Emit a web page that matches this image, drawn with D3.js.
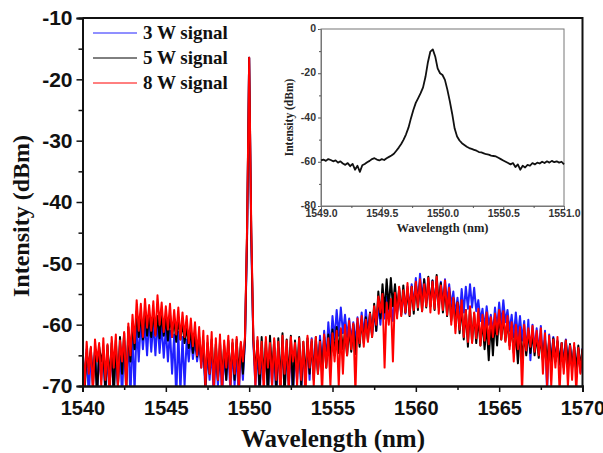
<!DOCTYPE html>
<html>
<head>
<meta charset="utf-8">
<script src="https://cdn.jsdelivr.net/npm/d3@7"></script>
<style>
  html, body { margin: 0; padding: 0; background: #fff; }
  svg { display: block; font-family: "Liberation Serif", "Times New Roman", serif; font-weight: bold; }
</style>
</head>
<body>
<div id="chart"></div>
<script>
// Wavelength grid of the main spectrum (nm), 0.125 nm step
const wavelength = d3.range(0, 241).map(i => 1540 + i * 0.125);

// Noisy OSA traces (dBm), one row per 2 nm
const red8W = [
  -63.5, -70, -62.8, -68, -63.6, -71, -62.4, -66, -63.0, -70, -62.2, -69, -63.2, -72, -62.0, -67,
  -61.6, -70, -62.6, -66, -61.2, -71, -59.8, -65, -58.4, -63, -56.0, -61, -56.6, -62, -55.8, -60.5,
  -56.8, -61, -56.2, -61.8, -55.2, -60, -56.4, -61.2, -57.0, -60.8, -56.6, -62, -57.6, -61.6, -57.2, -62.4,
  -58.0, -62, -58.6, -63, -59.0, -63.5, -59.6, -65, -60.4, -67, -61.0, -70, -61.8, -68, -61.2, -71,
  -62.2, -69, -61.6, -71, -62.6, -67, -61.8, -70, -62.4, -68, -62.0, -71, -62.8, -66, -62.0, -44,
  -16.5, -44, -62.0, -70, -62.0, -68, -62.8, -71, -62.0, -67, -63.0, -70, -62.2, -69, -62.8, -72,
  -61.8, -68, -62.6, -71, -62.0, -66, -63.0, -70, -62.2, -69, -62.8, -72, -61.8, -67, -62.4, -70,
  -62.0, -68, -62.8, -71, -61.6, -67, -62.2, -70, -61.4, -66, -61.0, -70, -60.6, -68, -60.0, -65,
  -59.4, -64, -59.8, -71, -59.0, -63, -58.6, -63.6, -59.2, -62.8, -58.2, -62, -57.0, -60, -55.4, -58,
  -55.0, -67, -56.4, -60, -55.8, -66, -54.8, -59, -53.8, -58.6, -54.4, -58, -53.2, -58.4, -53.8, -57.6,
  -53.0, -57.2, -52.6, -57.8, -53.4, -57, -52.4, -58, -53.0, -57.4, -52.2, -58.2, -53.6, -57.6, -52.8, -58.4,
  -54.0, -60, -55.6, -61.4, -56.4, -60.8, -56.0, -62, -57.6, -62.8, -57.0, -63, -58.0, -62.2, -57.4, -63.4,
  -58.4, -62.6, -58.0, -63.2, -58.8, -62, -58.2, -61.6, -57.6, -62.4, -57.8, -62.8, -58.6, -64, -59.6, -66,
  -60.0, -64, -60.4, -71, -60.0, -64.2, -60.6, -63.6, -60.2, -64.4, -61.0, -65, -60.6, -68, -61.4, -70,
  -61.8, -70, -62.4, -67, -62.0, -71, -63.0, -68, -62.6, -70, -63.4, -69, -63.0, -71, -63.8, -68,
  -64.0];

const black5W = [
  -64.0, -71, -64.6, -67, -63.8, -70, -64.4, -72, -63.6, -66, -64.2, -71, -63.4, -69, -63.0, -72,
  -62.6, -70, -62.0, -68, -61.4, -71, -60.4, -66, -59.8, -64, -57.8, -62, -58.2, -62.4, -57.6, -61.8,
  -58.4, -62, -58.0, -61.6, -58.6, -62.2, -58.2, -61.8, -58.8, -62.6, -58.4, -62, -59.0, -62.8, -58.8, -62.4,
  -59.6, -63, -60.2, -63.8, -60.8, -64.6, -61.4, -65.2, -62.0, -66, -62.6, -70, -63.0, -68, -62.4, -69,
  -63.2, -69, -62.8, -68.5, -63.4, -69, -62.6, -68.6, -63.0, -69, -62.4, -68.4, -63.0, -68, -62.4, -45,
  -16.5, -45, -62.4, -68, -62.6, -71, -62.0, -69, -62.8, -72, -61.8, -68, -62.6, -71, -62.2, -70,
  -61.4, -72, -62.4, -69, -61.8, -71, -62.6, -68, -62.0, -70, -62.8, -69, -62.2, -68, -62.8, -69,
  -62.0, -68, -62.6, -67.5, -62.0, -67, -61.6, -66, -60.8, -65, -60.4, -64.6, -60.8, -64, -61.2, -65,
  -60.6, -64.4, -60.0, -64.8, -59.8, -63.6, -59.2, -63, -58.8, -62.6, -58.0, -62, -56.6, -61, -54.6, -59,
  -53.4, -58, -52.6, -57.4, -52.4, -57, -53.4, -58, -54.0, -58.4, -53.6, -58, -54.2, -58.6, -53.8, -58.2,
  -53.2, -57.6, -53.0, -57.8, -52.6, -57.2, -52.2, -57, -52.8, -57.6, -51.9, -56.8, -53.2, -58, -53.8, -58.6,
  -54.6, -59.4, -55.8, -60.2, -56.4, -61.4, -57.0, -62.4, -57.6, -63.6, -57.2, -62.8, -58.2, -63, -58.8, -63.4,
  -59.4, -64, -60.0, -65.8, -59.6, -65, -59.0, -63.4, -58.2, -62.4, -58.6, -62.6, -59.4, -63.4, -60.4, -64.6,
  -61.4, -66.3, -61.0, -65.6, -61.6, -65, -61.0, -64.6, -61.4, -65, -61.8, -65.4, -62.0, -65.8, -62.4, -66,
  -62.6, -66.4, -62.2, -66, -62.8, -66.4, -63.0, -67, -62.6, -66.6, -63.2, -67, -63.6, -67.4, -63.4, -67,
  -64.0];

const blue3W = [
  -63.4, -70, -64.0, -72, -64.6, -68, -64.2, -71, -65.0, -69, -64.4, -72, -65.2, -70, -64.6, -71,
  -64.0, -70, -63.4, -72, -62.6, -69, -62.0, -72, -61.2, -71, -60.0, -66, -59.2, -64, -59.8, -65,
  -59.0, -64.4, -59.6, -65, -59.2, -64.6, -60.0, -65.4, -60.6, -66, -61.0, -68, -61.6, -72, -61.2, -71,
  -62.0, -70, -62.4, -66, -62.0, -65.6, -62.6, -66, -63.2, -67, -63.8, -71, -64.4, -69, -64.0, -72,
  -64.6, -70, -64.2, -72, -64.8, -69, -64.4, -71, -64.0, -70, -64.6, -72, -63.8, -69, -62.6, -46,
  -16.5, -46, -63.0, -70, -63.6, -72, -64.2, -69, -63.8, -71, -64.4, -70, -63.6, -72, -64.2, -69,
  -63.4, -71, -64.0, -70, -63.6, -72, -64.2, -69, -63.0, -71, -63.6, -70, -62.8, -69, -62.2, -68,
  -62.6, -67.5, -61.8, -67, -61.0, -66, -59.6, -64, -58.6, -62.4, -57.6, -61.8, -57.2, -61.4, -58.4, -62,
  -59.0, -62.6, -59.6, -63, -58.8, -62.4, -58.0, -61.8, -57.6, -61.2, -58.2, -61.6, -57.8, -61, -56.6, -60,
  -55.6, -59, -55.4, -58.6, -56.2, -59.4, -55.0, -58.4, -54.4, -58, -54.8, -58.2, -53.8, -57.6, -53.4, -57,
  -52.4, -56.6, -51.7, -56, -52.6, -56.4, -53.2, -57, -52.8, -56.6, -53.6, -57.2, -53.0, -56.8, -52.6, -56.4,
  -53.4, -57, -54.6, -58.4, -55.6, -59, -54.2, -58, -53.8, -57.4, -53.4, -57.2, -54.0, -57.8, -56.0, -59.4,
  -57.4, -60.6, -57.0, -60, -58.4, -61.4, -57.2, -60.6, -56.4, -60, -56.0, -59.6, -57.6, -61, -58.4, -62,
  -58.0, -62, -58.6, -62.6, -59.4, -64.6, -59.2, -65.8, -60.0, -64, -60.6, -64.6, -60.2, -66, -61.0, -71,
  -61.6, -66.4, -62.0, -66, -62.6, -66.6, -63.0, -66.2, -62.4, -66.8, -63.2, -67, -63.6, -67.4, -64.0, -67.8,
  -63.8];

const seriesNames = ["3 W signal", "5 W signal", "8 W signal"];
const seriesColors = ["#2020ff", "#000000", "#ff0000"];
const seriesValues = [blue3W, black5W, red8W];

// Inset: zoom on the signal line, 0.02 nm step
const insetWavelength = d3.range(0, 101).map(i => 1549 + i * 0.02);
const insetIntensity = [-59.4, -59.0, -59.6, -58.8, -59.2, -59.8, -59.4, -60.4, -59.8, -60.8,
  -61.4, -60.6, -62.0, -61.0, -63.6, -61.8, -64.6, -61.6, -61.0, -60.2,
  -59.6, -58.8, -58.4, -59.0, -59.4, -58.8, -59.2, -58.4, -57.8, -57.2,
  -56.4, -55.0, -53.6, -52.0, -50.0, -47.6, -44.6, -40.4, -36.6, -33.4,
  -31.2, -29.0, -26.4, -21.6, -15.0, -10.2, -9.2, -12.4, -17.8, -20.0,
  -20.8, -23.0, -27.4, -32.6, -38.4, -45.0, -48.6, -50.4, -51.6, -52.4,
  -53.2, -53.8, -54.2, -54.6, -55.0, -55.6, -55.8, -56.2, -56.6, -56.8,
  -57.2, -57.4, -57.6, -58.2, -58.8, -59.4, -60.0, -60.6, -61.2, -60.6,
  -62.4, -61.2, -63.6, -61.8, -62.6, -61.4, -61.8, -60.6, -61.2, -60.4,
  -60.8, -60.0, -60.6, -59.8, -60.4, -59.6, -60.2, -59.8, -60.4, -60.0,
  -61.2];

const xTicks = [1540, 1545, 1550, 1555, 1560, 1565, 1570];
const yTicks = [-70, -60, -50, -40, -30, -20, -10];
const insetXTicks = [1549.0, 1549.5, 1550.0, 1550.5, 1551.0];
const insetYTicks = [-80, -60, -40, -20, 0];

const width = 603, height = 453;
const svg = d3.select("#chart").append("svg")
  .attr("width", width).attr("height", height);

// plain hyphen minus like the original plot
const hyphen = fmt => d => fmt(d).replace("\u2212", "-");

// ---------- main plot ----------
const plot = { left: 82.5, right: 582.5, top: 18, bottom: 386 };
const x = d3.scaleLinear().domain([1540, 1570]).range([plot.left, plot.right]);
const y = d3.scaleLinear().domain([-70, -10]).range([plot.bottom, plot.top]);

svg.append("clipPath").attr("id", "clip")
  .append("rect")
  .attr("x", plot.left).attr("y", plot.top)
  .attr("width", plot.right - plot.left).attr("height", plot.bottom - plot.top);

const traceLine = d3.line().x(d => x(d.w)).y(d => y(d.v));
const traceG = svg.append("g").attr("clip-path", "url(#clip)");
seriesValues.forEach((vals, k) => {
  traceG.append("path")
    .datum(wavelength.map((w, i) => ({ w, v: vals[i] })))
    .attr("d", traceLine)
    .attr("fill", "none")
    .attr("stroke", seriesColors[k])
    .attr("stroke-width", 2)
    .attr("stroke-linejoin", "round");
});

// axes
const yAxis = svg.append("g")
  .attr("transform", `translate(${plot.left},0)`)
  .call(d3.axisLeft(y).tickValues(yTicks).tickSize(6).tickPadding(4).tickFormat(hyphen(d3.format("d"))));
svg.append("g")
  .attr("transform", `translate(${plot.left},0)`)
  .call(d3.axisLeft(y).tickValues(d3.range(-65, -10, 10)).tickSize(4).tickFormat(""));
const xAxis = svg.append("g")
  .attr("transform", `translate(0,${plot.bottom})`)
  .call(d3.axisBottom(x).tickValues(xTicks).tickSize(6).tickPadding(9).tickFormat(d3.format("d")));
svg.append("g")
  .attr("transform", `translate(0,${plot.bottom})`)
  .call(d3.axisBottom(x).tickValues(d3.range(1542.5, 1570, 5)).tickSize(4).tickFormat(""));

svg.selectAll(".domain").attr("stroke", "#111").attr("stroke-width", 2);
svg.selectAll(".tick line").attr("stroke", "#111").attr("stroke-width", 1.5);
yAxis.selectAll("text").style("font-size", "21px").style("font-weight", "bold").attr("fill", "#111");
xAxis.selectAll("text").style("font-size", "20px").style("font-weight", "bold").attr("fill", "#111");

// top and right frame
svg.append("path")
  .attr("d", `M${plot.left},${plot.top}H${plot.right}V${plot.bottom}`)
  .attr("fill", "none").attr("stroke", "#111").attr("stroke-width", 2);

// axis titles
svg.append("text")
  .attr("transform", `translate(29,${(plot.top + plot.bottom) / 2 + 14}) rotate(-90)`)
  .attr("text-anchor", "middle")
  .style("font-size", "24px")
  .attr("fill", "#111")
  .text("Intensity (dBm)");
svg.append("text")
  .attr("x", 333).attr("y", 447)
  .attr("text-anchor", "middle")
  .style("font-size", "25px")
  .attr("fill", "#111")
  .text("Wavelength (nm)");

// legend
const legend = svg.append("g");
seriesNames.forEach((name, k) => {
  const ly = 33 + k * 25;
  legend.append("line")
    .attr("x1", 93).attr("x2", 137).attr("y1", ly).attr("y2", ly)
    .attr("stroke", seriesColors[k]).attr("stroke-width", 1);
  legend.append("text")
    .attr("x", 143).attr("y", ly + 6)
    .style("font-size", "19px")
    .attr("fill", "#111")
    .text(name);
});

// ---------- inset ----------
const inset = { left: 321, right: 564, top: 29, bottom: 206 };
const ix = d3.scaleLinear().domain([1549, 1551]).range([inset.left, inset.right]);
const iy = d3.scaleLinear().domain([-80, 0]).range([inset.bottom, inset.top]);

svg.append("rect")
  .attr("x", inset.left).attr("y", inset.top)
  .attr("width", inset.right - inset.left).attr("height", inset.bottom - inset.top)
  .attr("fill", "none").attr("stroke", "#777").attr("stroke-width", 1);

const iyAxis = svg.append("g")
  .attr("transform", `translate(${inset.left},0)`)
  .call(d3.axisLeft(iy).tickValues(insetYTicks).tickSize(3).tickPadding(2).tickFormat(hyphen(d3.format("d"))));
svg.append("g")
  .attr("class", "iminor")
  .attr("transform", `translate(${inset.left},0)`)
  .call(d3.axisLeft(iy).tickValues([-70, -50, -30, -10]).tickSize(2).tickFormat(""));
const ixAxis = svg.append("g")
  .attr("transform", `translate(0,${inset.bottom})`)
  .call(d3.axisBottom(ix).tickValues(insetXTicks).tickSize(3).tickPadding(1).tickFormat(d3.format(".1f")));
svg.append("g")
  .attr("class", "iminor")
  .attr("transform", `translate(0,${inset.bottom})`)
  .call(d3.axisBottom(ix).tickValues([1549.25, 1549.75, 1550.25, 1550.75]).tickSize(2).tickFormat(""));

[iyAxis, ixAxis].forEach(g => {
  g.select(".domain").attr("stroke", "#777").attr("stroke-width", 1);
  g.selectAll("text").style("font-size", "10.5px").attr("fill", "#333");
});
iyAxis.selectAll("text").attr("dy", "0.25em");
svg.selectAll(".iminor .domain").attr("stroke", "#777").attr("stroke-width", 1);
iyAxis.selectAll(".tick line").attr("stroke", "#555").attr("stroke-width", 1);
ixAxis.selectAll(".tick line").attr("stroke", "#555").attr("stroke-width", 1);
svg.selectAll(".iminor .tick line").attr("stroke", "#555").attr("stroke-width", 1);

svg.append("path")
  .datum(insetWavelength.map((w, i) => ({ w, v: insetIntensity[i] })))
  .attr("d", d3.line().x(d => ix(d.w)).y(d => iy(d.v)))
  .attr("fill", "none")
  .attr("stroke", "#111")
  .attr("stroke-width", 1.8)
  .attr("stroke-linejoin", "round");

svg.append("text")
  .attr("transform", `translate(293,${(inset.top + inset.bottom) / 2}) rotate(-90)`)
  .attr("text-anchor", "middle")
  .style("font-size", "11.5px")
  .attr("fill", "#222")
  .text("Intensity (dBm)");
svg.append("text")
  .attr("x", (inset.left + inset.right) / 2).attr("y", 232)
  .attr("text-anchor", "middle")
  .style("font-size", "12.5px")
  .attr("fill", "#222")
  .text("Wavelength (nm)");
</script>
</body>
</html>
